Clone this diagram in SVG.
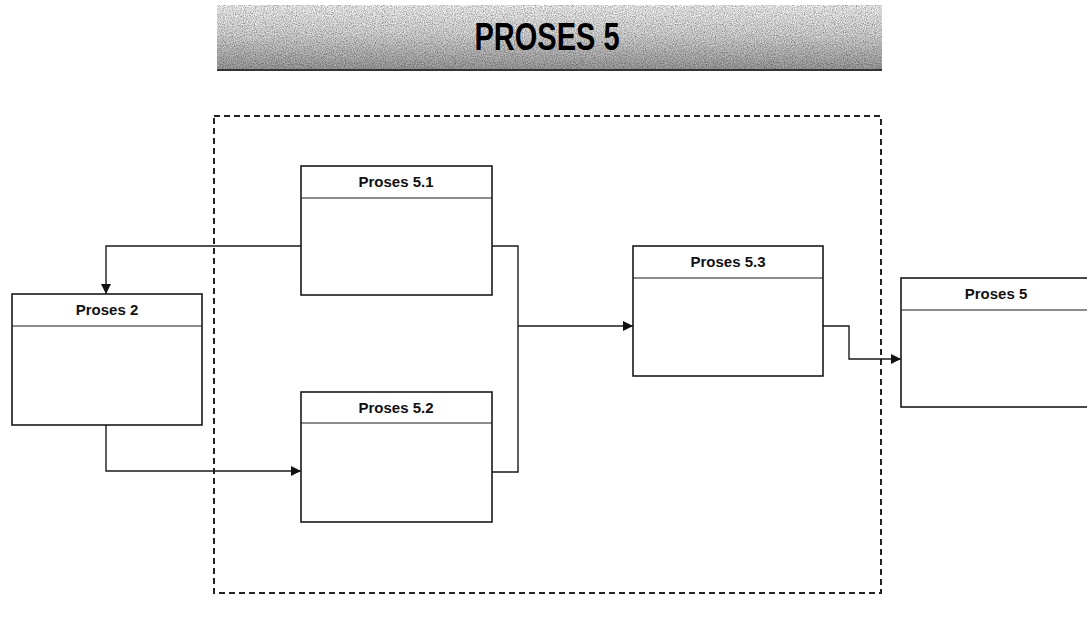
<svg xmlns="http://www.w3.org/2000/svg" width="1087" height="617" viewBox="0 0 1087 617">
  <defs>
    <linearGradient id="bannerGrad" x1="0" y1="0" x2="0" y2="1">
      <stop offset="0" stop-color="#ffffff"/>
      <stop offset="0.45" stop-color="#e2e2e2"/>
      <stop offset="1" stop-color="#a4a4a4"/>
    </linearGradient>
    <filter id="grain" x="0" y="0" width="1" height="1">
      <feTurbulence type="fractalNoise" baseFrequency="0.9" numOctaves="2" seed="3" result="n"/>
      <feColorMatrix in="n" type="matrix" values="0 0 0 0 0  0 0 0 0 0  0 0 0 0 0  0 0 0 -1.2 0.9" result="dots"/>
      <feComposite in="dots" in2="SourceGraphic" operator="in" result="d2"/>
      <feBlend in="SourceGraphic" in2="d2" mode="multiply"/>
    </filter>
    <marker id="arrow" viewBox="0 0 10 10" refX="10" refY="5" markerWidth="10" markerHeight="10" markerUnits="userSpaceOnUse" orient="auto">
      <path d="M0,0 L10,5 L0,10 Z" fill="#111"/>
    </marker>
  </defs>
  <style>
    .box { fill: #ffffff; stroke: #1a1a1a; stroke-width: 1.6; }
    .hdr { stroke: #1a1a1a; stroke-width: 1.2; }
    .lbl { font-family: "Liberation Sans", Arial, sans-serif; font-weight: bold; font-size: 15px; fill: #111; text-anchor: middle; }
    .conn { fill: none; stroke: #1a1a1a; stroke-width: 1.4; }
    .frame { fill: none; stroke: #222; stroke-width: 2; stroke-dasharray: 6 4; }
    .title { font-family: "Liberation Sans", Arial, sans-serif; font-weight: bold; font-size: 39px; fill: #000; text-anchor: middle; }
  </style>
  <rect width="1087" height="617" fill="#ffffff"/>

  <g id="banner">
    <rect x="217" y="5" width="665" height="65" fill="url(#bannerGrad)" filter="url(#grain)"/>
    <line x1="217" y1="70" x2="882" y2="70" stroke="#333" stroke-width="2"/>
    <text class="title" x="547" y="50" textLength="145" lengthAdjust="spacingAndGlyphs">PROSES 5</text>
  </g>

  <g id="frame">
    <rect class="frame" x="214" y="116" width="667" height="477"/>
  </g>

  <g id="connectors">
    <path class="conn" d="M301,246 H106 V294" marker-end="url(#arrow)"/>
    <path class="conn" d="M106,425 V471 H301" marker-end="url(#arrow)"/>
    <path class="conn" d="M492,246 H518 V472 H492"/>
    <path class="conn" d="M518,326 H633" marker-end="url(#arrow)"/>
    <path class="conn" d="M823,326 H849 V359 H901" marker-end="url(#arrow)"/>
  </g>

  <g id="proses2">
    <rect class="box" x="12" y="294" width="190" height="131"/>
    <line class="hdr" x1="12" y1="326" x2="202" y2="326"/>
    <text class="lbl" x="107" y="315">Proses 2</text>
  </g>

  <g id="proses51">
    <rect class="box" x="301" y="166" width="191" height="129"/>
    <line class="hdr" x1="301" y1="198" x2="492" y2="198"/>
    <text class="lbl" x="396" y="187">Proses 5.1</text>
  </g>

  <g id="proses52">
    <rect class="box" x="301" y="392" width="191" height="130"/>
    <line class="hdr" x1="301" y1="423" x2="492" y2="423"/>
    <text class="lbl" x="396" y="413">Proses 5.2</text>
  </g>

  <g id="proses53">
    <rect class="box" x="633" y="246" width="190" height="130"/>
    <line class="hdr" x1="633" y1="278" x2="823" y2="278"/>
    <text class="lbl" x="728" y="267">Proses 5.3</text>
  </g>

  <g id="proses5">
    <rect class="box" x="901" y="278" width="200" height="129"/>
    <line class="hdr" x1="901" y1="310" x2="1101" y2="310"/>
    <text class="lbl" x="996" y="299">Proses 5</text>
  </g>
</svg>
